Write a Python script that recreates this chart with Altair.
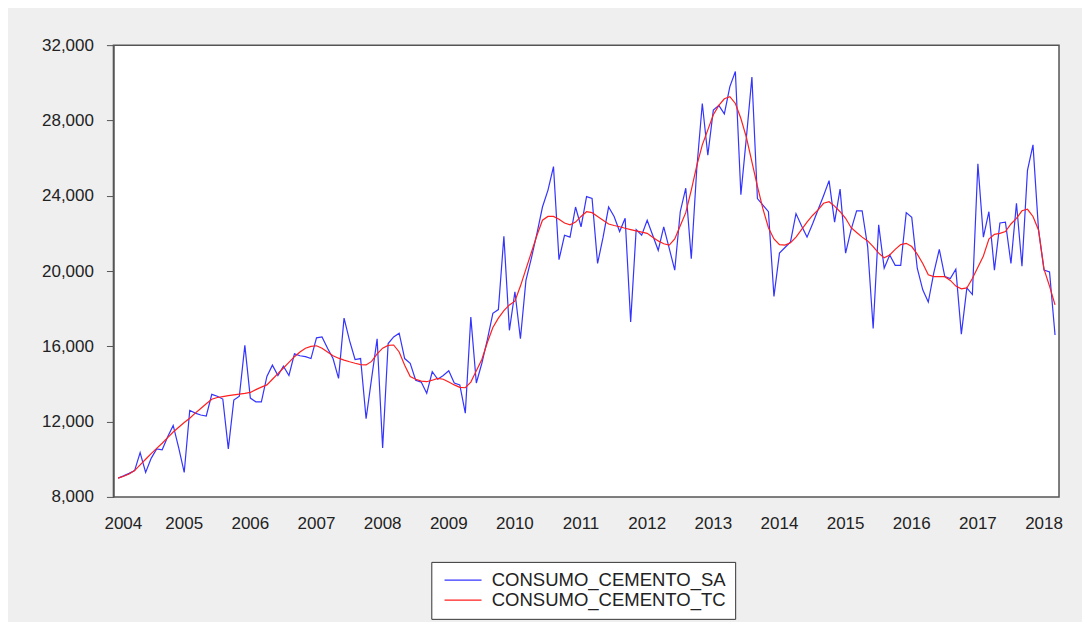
import altair as alt
import pandas as pd

# ---------------- data (monthly, 2004M07 .. 2018M09) ----------------
start_year = 2004
start_month = 7
series_names = ["CONSUMO_CEMENTO_SA", "CONSUMO_CEMENTO_TC"]

consumo_sa = [
    9000, 9120, 9250, 9400, 10350, 9300, 10050, 10550, 10500, 11200,
    11800, 10600, 9300, 12600, 12450, 12350, 12300, 13450, 13350, 13200,
    10550, 13150, 13350, 16050, 13250, 13050, 13050, 14400, 15000, 14450,
    14950, 14450, 15600, 15500, 15450, 15350, 16450, 16500, 15900, 15350,
    14300, 17500, 16300, 15300, 15350, 12150, 14300, 16400, 10600, 16150,
    16500, 16700, 15350, 15100, 14200, 14100, 13500, 14650, 14250, 14450,
    14700, 14050, 13950, 12450, 17550, 14050, 15100, 16350, 17750, 17950,
    21850, 16850, 18900, 16400, 19500, 20700, 22000, 23400, 24300, 25550,
    20600, 21900, 21800, 23400, 22350, 23950, 23850, 20400, 21800, 23400,
    22900, 22100, 22800, 17300, 22200, 21900, 22700, 21900, 21100, 22350,
    21200, 20050, 23150, 24400, 20650, 25450, 28900, 26150, 28550, 28800,
    28350, 29800, 30600, 24050, 27100, 30300, 23850, 23500, 23150, 18650,
    20950, 21250, 21550, 23050, 22400, 21800, 22500, 23250, 24000, 24800,
    22600, 24350, 20950, 22200, 23200, 23200, 21300, 16950, 22450, 20150,
    20850, 20300, 20300, 23100, 22850, 20150, 19000, 18350, 19900, 21150,
    19700, 19600, 20100, 16650, 19100, 18750, 25700, 21800, 23150, 20050,
    22550, 22600, 20400, 23600, 20250, 25350, 26700, 22200, 20050, 19950,
    16600,
]

consumo_tc = [
    9000, 9100, 9220, 9400, 9700, 10000, 10300, 10580, 10850, 11150,
    11450, 11700, 11950, 12180, 12450, 12700, 12950, 13190, 13280, 13330,
    13380, 13420, 13460, 13500, 13550, 13700, 13830, 13950, 14250, 14550,
    14850, 15150, 15450, 15700, 15900, 16000, 16030, 15900, 15700, 15500,
    15370, 15270, 15180, 15100, 15030, 15010, 15200, 15600, 15900, 16050,
    16070, 15700, 15000, 14400, 14250, 14150, 14120, 14200, 14300, 14250,
    14100, 13950, 13820, 13800, 14100, 14700, 15300, 16200, 17000, 17500,
    17900, 18200, 18400, 19200, 20100, 21000, 21900, 22700, 22900, 22900,
    22750, 22550, 22450, 22600, 22900, 23150, 23100, 22900, 22700, 22500,
    22420, 22350, 22270, 22200, 22130, 22070, 22000, 21800, 21600, 21450,
    21380, 21700, 22400, 23100, 24300, 25600, 26700, 27500, 28300, 28800,
    29150, 29260, 28900, 28100, 27100, 25800, 24500, 23300, 22300, 21700,
    21400, 21380, 21500, 21800, 22200, 22600, 22950, 23250, 23600, 23680,
    23450, 23150, 22800, 22300, 22050, 21800, 21600, 21300, 20950, 20700,
    20850, 21150, 21400, 21470, 21300, 20900, 20400, 19800, 19700, 19700,
    19700, 19500, 19200, 19050, 19100, 19600, 20200, 20800, 21700, 21950,
    22000, 22100, 22500, 22800, 23200, 23280, 22900, 22180, 20100, 19200,
    18200,
]

year_labels = list(range(2004, 2019))
y_tick_values = [8000, 12000, 16000, 20000, 24000, 28000, 32000]

# ---------------- build tables ----------------
n = len(consumo_sa)
t = [start_year + (start_month - 1) / 12 + i / 12 for i in range(n)]
df = pd.DataFrame({
    "t": t + t,
    "value": consumo_sa + consumo_tc,
    "series": [series_names[0]] * n + [series_names[1]] * n,
})

x_dom = [t[0] - 0.07, t[-1] + 0.06]
lab_pos = [min(max(y + 0.5, x_dom[0] + 0.15), x_dom[1]) for y in year_labels]
df_years = pd.DataFrame({"pos": lab_pos, "label": [str(y) for y in year_labels]})

W, H = 946, 452
FONT = "Liberation Sans"
x_scale = alt.Scale(domain=x_dom, nice=False, zero=False)

lines = alt.Chart(df).mark_line(strokeWidth=1.2, interpolate="linear").encode(
    x=alt.X(
        "t:Q",
        scale=x_scale,
        axis=alt.Axis(
            values=t,
            labels=False,
            title=None,
            grid=False,
            domainColor="#555555",
            domainWidth=1.5,
            tickColor="#555555",
            tickWidth=1,
            tickSize={
                "condition": {
                    "test": "abs(datum.value - round(datum.value)) < 0.001",
                    "value": 10,
                },
                "value": 5,
            },
        ),
    ),
    y=alt.Y(
        "value:Q",
        scale=alt.Scale(domain=[8000, 32000], nice=False, zero=False),
        axis=alt.Axis(
            values=y_tick_values,
            format=",.0f",
            title=None,
            grid=False,
            domainColor="#555555",
            domainWidth=1.5,
            tickColor="#555555",
            tickSize=7,
            labelFont=FONT,
            labelFontSize=17,
            labelColor="#222222",
            labelPadding=13,
        ),
    ),
    color=alt.Color(
        "series:N",
        scale=alt.Scale(domain=series_names, range=["#3434ff", "#ff1f1f"]),
        legend=alt.Legend(
            title=None,
            orient="none",
            legendX=318,
            legendY=517,
            symbolType="M-1,0H6.4",
            symbolSize=100,
            symbolStrokeWidth=1.3,
            labelFont=FONT,
            labelFontSize=18.5,
            labelColor="#222222",
            labelOffset=33,
            labelLimit=0,
            strokeColor="#333333",
            fillColor="white",
            padding=9,
            rowPadding=1,
        ),
    ),
    order=alt.Order("series:N"),
)

year_text = alt.Chart(df_years).mark_text(
    baseline="top", align="center", font=FONT, fontSize=17, color="#222222"
).encode(
    x=alt.X("pos:Q", scale=x_scale, axis=None),
    y=alt.value(H + 19),
    text="label:N",
)

chart = alt.layer(lines, year_text).properties(
    width=W,
    height=H,
    autosize=alt.AutoSizeParams(type="none"),
    padding={"left": 105.5, "top": 37, "right": 23, "bottom": 125},
    background="#efefef",
).configure_view(
    fill="white",
    stroke="#555555",
    strokeWidth=1.5,
)

chart.save("out.html", embed_options={"renderer": "svg", "actions": False})
